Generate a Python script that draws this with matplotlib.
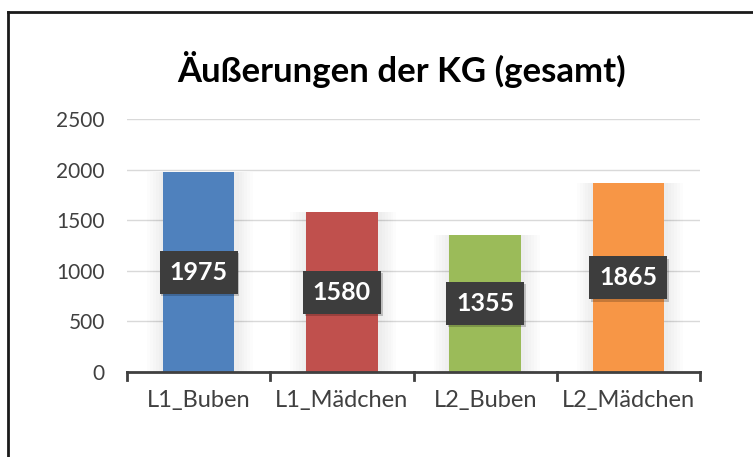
import matplotlib.pyplot as plt
from matplotlib.lines import Line2D

categories = ["L1_Buben", "L1_Mädchen", "L2_Buben", "L2_Mädchen"]
values = [1975, 1580, 1355, 1865]
colors = ["#4f81bd", "#c0504d", "#9bbb59", "#f79646"]
y_ticks = [0, 500, 1000, 1500, 2000, 2500]

plt.rcParams['font.family'] = ['Lato', 'DejaVu Sans']

fig = plt.figure(figsize=(7.53, 4.57), dpi=100)
ax = fig.add_axes([127 / 753, 1 - 372 / 457, 573 / 753, 253 / 457])

x = list(range(len(categories)))

# soft glow behind the bars
for i, v in enumerate(values):
    for k in [0.37, 0.35, 0.33, 0.31, 0.29, 0.27]:
        ax.bar(i + 0.01, v + 10, width=2 * k, bottom=-10, color='black',
               alpha=0.012, zorder=1, linewidth=0)

ax.bar(x, values, width=0.5, color=colors, zorder=2)

for i, v in enumerate(values):
    # shadow of the label box
    ax.text(i + 0.012, v / 2 - 25, str(v), ha='center', va='center',
            color='white', fontsize=18, fontweight='bold', zorder=4, alpha=0,
            bbox=dict(boxstyle='square,pad=0.4', facecolor='black',
                      alpha=0.2, edgecolor='none'))
    ax.text(i, v / 2, str(v), ha='center', va='center', color='white',
            fontsize=18, fontweight='bold', zorder=5,
            bbox=dict(boxstyle='square,pad=0.4', facecolor='#3d3d3d',
                      edgecolor='none'))

ax.set_xlim(-0.5, len(categories) - 0.5)
ax.set_ylim(0, 2500)
ax.set_yticks(y_ticks)
ax.set_yticklabels([str(t) for t in y_ticks], fontsize=15, color='#404040')
ax.yaxis.grid(True, color='#d9d9d9', linewidth=1, zorder=0)
ax.set_axisbelow(True)
ax.tick_params(axis='y', length=0, pad=16)

ax.set_xticks(x)
ax.set_xticklabels(categories, fontsize=17, color='#404040')
ax.tick_params(axis='x', length=0, pad=13)
for b in [-0.5, 0.5, 1.5, 2.5, 3.5]:
    ax.plot([b, b], [0, -75], color='#404040', linewidth=2, clip_on=False,
            zorder=6)

for s in ['top', 'right', 'left']:
    ax.spines[s].set_visible(False)
ax.spines['bottom'].set_color('#404040')
ax.spines['bottom'].set_linewidth(2)

fig.text(402 / 753, 1 - 70 / 457, "Äußerungen der KG (gesamt)", ha='center',
         va='center', fontsize=25, fontweight='bold', color='black')

# chart border (top and left only visible)
fig.add_artist(Line2D([8 / 753, 8 / 753], [0, 1 - 12 / 457],
                      transform=fig.transFigure, color='#1a1a1a', linewidth=2))
fig.add_artist(Line2D([8 / 753, 1], [1 - 12 / 457, 1 - 12 / 457],
                      transform=fig.transFigure, color='#1a1a1a', linewidth=2))

fig.savefig("out.png", dpi=100)
